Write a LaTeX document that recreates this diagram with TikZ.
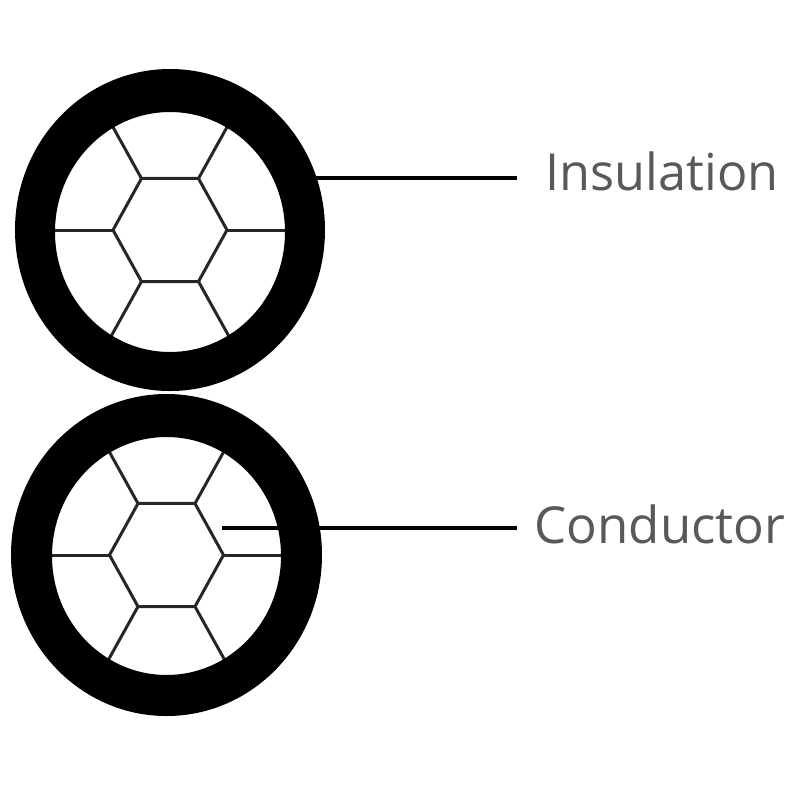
\documentclass[tikz,border=0pt]{standalone}
\usepackage{fontspec}
\usetikzlibrary{calc}
\setmainfont{Open Sans}
\definecolor{labelgrey}{HTML}{595959}
\tikzset{
    wire/.style={line width=.85pt,draw=black!85},
    leader/.style={line width=.9pt,draw=black},
    label/.style={text=labelgrey,font=\fontsize{14.5}{16}\selectfont,inner sep=0pt,anchor=west}
}
\begin{document}
\begin{tikzpicture}[x=.01cm,y=-.01cm]
    \useasboundingbox (0,0) rectangle (799,799);
    \foreach \n/\cx/\cy/\ox/\oy/\ix/\iy/\iyc in {
        top/170/230/155/161/115/120/232,
        bot/166.5/555/155.5/161/114.5/119/556
    }{
        \coordinate (\n c) at (\cx,\cy);
        \foreach \a in {0,60,...,300}{
            \coordinate (\n h\a) at ($(\n c)+(\a:57 and 59.5)$);
            \coordinate (\n s\a) at ($(\n c)+(\a:120 and 125)$);
            \draw[wire] (\n h\a) -- (\n s\a);
        }
        \draw[wire,line join=round] (\n h0) -- (\n h60) -- (\n h120) -- (\n h180) -- (\n h240) -- (\n h300) -- cycle;
        \fill[black,even odd rule] (\cx,\cy) ellipse [x radius=\ox,y radius=\oy]
            (\cx,\iyc) ellipse [x radius=\ix,y radius=\iy];
    }
    \coordinate (ins) at (295,178);
    \coordinate (con) at (222,528);
    \node[label,xscale=.99] (insulation) at (545,171) {Insulation};
    \node[label] (conductor) at (534,524) {Conductor};
    \draw[leader] (ins) -- (517,178) coordinate (insend);
    \draw[leader] (con) -- (517,528) coordinate (conend);
\end{tikzpicture}
\end{document}
